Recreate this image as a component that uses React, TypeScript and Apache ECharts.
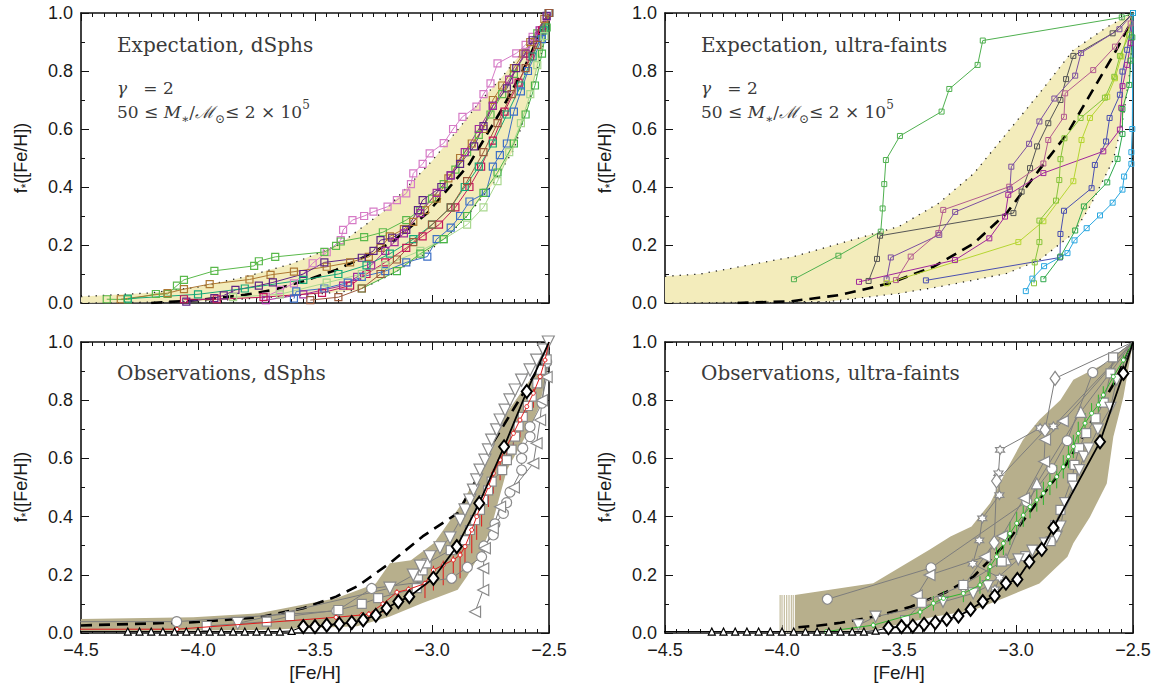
import React, { useEffect, useRef } from "react";
import * as echarts from "echarts";

type P = [number, number];

// ---------- axes ----------
const X_MIN = -4.5;
const X_MAX = -2.5;
const X_STEP = 0.5;
const Y_MIN = 0;
const Y_MAX = 1;
const Y_STEP = 0.2;

const PANEL_TITLES = [
  "Expectation, dSphs",
  "Expectation, ultra-faints",
  "Observations, dSphs",
  "Observations, ultra-faints",
];
const X_NAME = "[Fe/H]";
const Y_NAME = "{f|f}{s|*}([Fe/H])";

// ---------- top-left: expectation, dSphs ----------
const tlBandUpper: P[] = [[-4.5, 0.022], [-4.2, 0.035], [-4.0, 0.055], [-3.8, 0.09], [-3.6, 0.135], [-3.4, 0.2], [-3.2, 0.32], [-3.0, 0.49], [-2.88, 0.607], [-2.8, 0.69], [-2.7, 0.78], [-2.6, 0.88], [-2.5, 1.0]];
const tlBandLower: P[] = [[-4.5, 0.0], [-4.0, 0.005], [-3.74, 0.017], [-3.5, 0.03], [-3.31, 0.045], [-3.17, 0.1], [-3.05, 0.16], [-2.95, 0.217], [-2.85, 0.3], [-2.74, 0.41], [-2.65, 0.53], [-2.595, 0.665], [-2.53, 0.87], [-2.5, 1.0]];
const tlMedian: P[] = [[-4.2, 0.0], [-4.0, 0.01], [-3.8, 0.028], [-3.68, 0.045], [-3.55, 0.075], [-3.41, 0.114], [-3.3, 0.155], [-3.17, 0.21], [-3.02, 0.31], [-2.84, 0.48], [-2.7, 0.67], [-2.6, 0.82], [-2.5, 1.0]];
const tlPink: P[] = [[-3.71, 0.022], [-3.65, 0.045], [-3.59, 0.068], [-3.55, 0.1], [-3.51, 0.137], [-3.45, 0.175], [-3.39, 0.217], [-3.38, 0.252], [-3.34, 0.286], [-3.29, 0.3], [-3.25, 0.315], [-3.19, 0.332], [-3.15, 0.355], [-3.11, 0.378], [-3.09, 0.41], [-3.08, 0.447], [-3.04, 0.48], [-3.01, 0.516], [-2.95, 0.551], [-2.91, 0.6], [-2.87, 0.642], [-2.81, 0.677], [-2.78, 0.72], [-2.75, 0.757], [-2.72, 0.826], [-2.64, 0.861], [-2.6, 0.89], [-2.57, 0.918], [-2.51, 0.987], [-2.5, 1.0]];
const tlGreen: P[] = [[-4.39, 0.013], [-4.3, 0.012], [-4.18, 0.031], [-4.13, 0.031], [-4.09, 0.06], [-4.06, 0.08], [-3.93, 0.111], [-3.76, 0.128], [-3.74, 0.144], [-3.67, 0.159], [-3.46, 0.176], [-3.41, 0.197], [-3.39, 0.212], [-3.29, 0.227], [-3.21, 0.244], [-3.11, 0.286], [-3.05, 0.32], [-3.0, 0.36], [-2.95, 0.41], [-2.9, 0.46], [-2.85, 0.52], [-2.8, 0.58], [-2.75, 0.65], [-2.7, 0.72], [-2.65, 0.79], [-2.6, 0.86], [-2.55, 0.93], [-2.5, 1.0]];
const tlBrown: P[] = [[-4.33, 0.013], [-4.13, 0.034], [-4.06, 0.048], [-3.95, 0.065], [-3.78, 0.081], [-3.69, 0.097], [-3.59, 0.108], [-3.45, 0.125], [-3.35, 0.14], [-3.27, 0.159], [-3.22, 0.19], [-3.18, 0.23], [-3.12, 0.255], [-3.08, 0.28], [-3.03, 0.32], [-2.98, 0.36], [-2.93, 0.43], [-2.88, 0.5], [-2.83, 0.55], [-2.78, 0.6], [-2.74, 0.7], [-2.7, 0.75], [-2.65, 0.81], [-2.61, 0.86], [-2.58, 0.9], [-2.52, 0.98], [-2.5, 1.0]];
const tlPurple: P[] = [[-4.05, 0.005], [-3.93, 0.017], [-3.89, 0.026], [-3.84, 0.045], [-3.74, 0.06], [-3.68, 0.071], [-3.55, 0.1], [-3.46, 0.14], [-3.3, 0.156], [-3.25, 0.18], [-3.22, 0.217], [-3.17, 0.225], [-3.11, 0.252], [-3.06, 0.32], [-3.04, 0.355], [-2.96, 0.4], [-2.92, 0.44], [-2.88, 0.48], [-2.82, 0.54], [-2.78, 0.61], [-2.74, 0.68], [-2.68, 0.74], [-2.64, 0.81], [-2.57, 0.906], [-2.51, 0.99], [-2.5, 1.0]];
const tlMagenta: P[] = [[-3.71, 0.01], [-3.55, 0.03], [-3.38, 0.06], [-3.32, 0.09], [-3.26, 0.13], [-3.2, 0.18], [-3.16, 0.21], [-3.12, 0.24], [-3.05, 0.31], [-2.98, 0.38], [-2.92, 0.44], [-2.86, 0.52], [-2.8, 0.6], [-2.74, 0.68], [-2.67, 0.77], [-2.6, 0.86], [-2.54, 0.94], [-2.5, 1.0]];
const tlCrimson: P[] = [[-4.06, 0.013], [-3.92, 0.013], [-3.72, 0.02], [-3.47, 0.035], [-3.35, 0.06], [-3.28, 0.1], [-3.2, 0.14], [-3.11, 0.19], [-3.04, 0.23], [-2.97, 0.27], [-2.9, 0.33], [-2.84, 0.4], [-2.79, 0.47], [-2.74, 0.56], [-2.69, 0.66], [-2.63, 0.76], [-2.58, 0.85], [-2.53, 0.94], [-2.5, 1.0]];
const tlTeal: P[] = [[-4.3, 0.015], [-4.0, 0.03], [-3.8, 0.05], [-3.55, 0.08], [-3.4, 0.1], [-3.28, 0.13], [-3.18, 0.17], [-3.08, 0.22], [-3.0, 0.27], [-2.92, 0.33], [-2.86, 0.4], [-2.8, 0.47], [-2.74, 0.55], [-2.68, 0.65], [-2.62, 0.75], [-2.57, 0.85], [-2.52, 0.94], [-2.5, 1.0]];
const tlBlue: P[] = [[-3.59, 0.015], [-3.58, 0.04], [-3.46, 0.05], [-3.36, 0.07], [-3.3, 0.09], [-3.2, 0.11], [-3.11, 0.14], [-3.02, 0.16], [-2.98, 0.22], [-2.92, 0.26], [-2.88, 0.3], [-2.84, 0.35], [-2.77, 0.38], [-2.74, 0.47], [-2.71, 0.51], [-2.68, 0.55], [-2.65, 0.66], [-2.62, 0.73], [-2.59, 0.8], [-2.53, 0.91], [-2.5, 1.0]];
const tlLight: P[] = [[-3.85, 0.02], [-3.65, 0.03], [-3.45, 0.07], [-3.3, 0.1], [-3.2, 0.13], [-3.05, 0.18], [-2.95, 0.22], [-2.85, 0.27], [-2.78, 0.33], [-2.72, 0.42], [-2.67, 0.52], [-2.62, 0.62], [-2.58, 0.72], [-2.55, 0.82], [-2.52, 0.92], [-2.5, 1.0]];
const tlGreen2: P[] = [[-3.3, 0.05], [-3.15, 0.11], [-3.05, 0.17], [-2.95, 0.22], [-2.85, 0.3], [-2.78, 0.38], [-2.72, 0.45], [-2.65, 0.55], [-2.6, 0.65], [-2.56, 0.75], [-2.53, 0.86], [-2.51, 0.95], [-2.5, 1.0]];
const tlDarkBrown: P[] = [[-3.52, 0.01], [-3.4, 0.02], [-3.3, 0.05], [-3.22, 0.1], [-3.15, 0.15], [-3.08, 0.21], [-3.0, 0.27], [-2.92, 0.33], [-2.85, 0.42], [-2.78, 0.52], [-2.72, 0.62], [-2.66, 0.72], [-2.6, 0.81], [-2.55, 0.89], [-2.5, 1.0]];
const tlTracks = [tlPink, tlGreen, tlBrown, tlPurple, tlMagenta, tlCrimson, tlTeal, tlBlue, tlLight, tlGreen2, tlDarkBrown];
const tlColors = ["#d67bc6", "#5ab94b", "#ae7934", "#5f2485", "#a12d9c", "#c2185b", "#16a878", "#3c6fc6", "#a9d88f", "#48b54a", "#9a593c"];

// ---------- top-right: expectation, ultra-faints ----------
const trBandUpper: P[] = [[-4.5, 0.092], [-4.35, 0.1], [-4.18, 0.125], [-3.95, 0.16], [-3.75, 0.206], [-3.5, 0.264], [-3.33, 0.344], [-3.18, 0.447], [-3.04, 0.585], [-2.9, 0.723], [-2.755, 0.872], [-2.61, 0.952], [-2.5, 1.0]];
const trBandLower: P[] = [[-4.5, 0.0], [-3.8, 0.005], [-3.5, 0.033], [-3.33, 0.056], [-3.18, 0.079], [-3.04, 0.102], [-2.9, 0.148], [-2.755, 0.24], [-2.684, 0.333], [-2.584, 0.494], [-2.541, 0.643], [-2.51, 0.815], [-2.5, 1.0]];
const trMedian: P[] = [[-4.19, 0.0], [-3.96, 0.006], [-3.75, 0.028], [-3.54, 0.068], [-3.35, 0.126], [-3.18, 0.206], [-3.04, 0.31], [-2.9, 0.46], [-2.78, 0.585], [-2.68, 0.723], [-2.58, 0.86], [-2.51, 0.965], [-2.5, 1.0]];
const trGreen: P[] = [[-3.949, 0.082], [-3.759, 0.163], [-3.578, 0.246], [-3.57, 0.326], [-3.563, 0.41], [-3.556, 0.493], [-3.496, 0.576], [-3.318, 0.66], [-3.285, 0.738], [-3.164, 0.821], [-3.142, 0.905], [-2.548, 0.985], [-2.5, 1.0]];
const trGray: P[] = [[-3.63, 0.076], [-3.594, 0.152], [-3.581, 0.232], [-3.011, 0.31], [-2.976, 0.384], [-2.94, 0.465], [-2.91, 0.54], [-2.862, 0.62], [-2.81, 0.7], [-2.786, 0.772], [-2.755, 0.852], [-2.587, 0.93], [-2.5, 1.0]];
const trPurple: P[] = [[-3.553, 0.082], [-3.535, 0.157], [-3.328, 0.235], [-3.26, 0.314], [-3.026, 0.392], [-3.02, 0.47], [-2.944, 0.549], [-2.9, 0.626], [-2.836, 0.705], [-2.747, 0.784], [-2.722, 0.862], [-2.558, 0.944], [-2.5, 1.0]];
const trMauve: P[] = [[-3.513, 0.079], [-3.45, 0.16], [-3.332, 0.241], [-3.311, 0.321], [-3.029, 0.401], [-2.883, 0.481], [-2.862, 0.562], [-2.795, 0.642], [-2.79, 0.723], [-2.67, 0.803], [-2.577, 0.884], [-2.51, 0.964], [-2.5, 1.0]];
const trMagenta: P[] = [[-3.671, 0.073], [-3.261, 0.148], [-3.114, 0.223], [-3.047, 0.298], [-3.033, 0.373], [-2.883, 0.448], [-2.627, 0.523], [-2.556, 0.598], [-2.55, 0.673], [-2.545, 0.748], [-2.525, 0.821], [-2.51, 0.896], [-2.5, 1.0]];
const trYellow: P[] = [[-3.553, 0.068], [-2.99, 0.21], [-2.883, 0.282], [-2.755, 0.42], [-2.72, 0.562], [-2.684, 0.638], [-2.61, 0.711], [-2.577, 0.775], [-2.55, 0.85], [-2.5, 1.0]];
const trLime: P[] = [[-2.923, 0.068], [-2.92, 0.14], [-2.9, 0.21], [-2.9, 0.284], [-2.829, 0.353], [-2.815, 0.424], [-2.81, 0.496], [-2.793, 0.568], [-2.724, 0.638], [-2.62, 0.708], [-2.58, 0.78], [-2.556, 0.852], [-2.516, 0.925], [-2.5, 1.0]];
const trIndigo: P[] = [[-3.385, 0.078], [-2.812, 0.157], [-2.81, 0.238], [-2.795, 0.318], [-2.677, 0.396], [-2.663, 0.476], [-2.615, 0.557], [-2.6, 0.638], [-2.556, 0.718], [-2.545, 0.798], [-2.525, 0.873], [-2.5, 1.0]];
const trDkGreen: P[] = [[-2.883, 0.082], [-2.81, 0.16], [-2.747, 0.25], [-2.71, 0.333], [-2.61, 0.416], [-2.566, 0.497], [-2.545, 0.583], [-2.545, 0.669], [-2.516, 0.752], [-2.51, 0.836], [-2.503, 0.916], [-2.5, 1.0]];
const trCyan: P[] = [[-2.958, 0.041], [-2.93, 0.084], [-2.88, 0.127], [-2.78, 0.172], [-2.75, 0.216], [-2.698, 0.258], [-2.641, 0.302], [-2.587, 0.346], [-2.545, 0.391], [-2.538, 0.436], [-2.507, 0.48], [-2.507, 0.52], [-2.503, 0.6], [-2.5, 1.0]];
const trTracks = [trGreen, trGray, trPurple, trMauve, trMagenta, trYellow, trLime, trIndigo, trDkGreen, trCyan];
const trColors = ["#4fb04f", "#555555", "#7b4fa0", "#b35b8f", "#a0279b", "#b5d531", "#86c43a", "#4a4fb0", "#2ea84a", "#2aa7e0"];

// ---------- bottom-left: observations, dSphs ----------
const blBandUpper: P[] = [[-4.5, 0.048], [-4.02, 0.054], [-3.74, 0.068], [-3.41, 0.119], [-3.24, 0.17], [-3.18, 0.24], [-3.09, 0.25], [-2.99, 0.31], [-2.88, 0.436], [-2.79, 0.562], [-2.74, 0.665], [-2.68, 0.757], [-2.6, 0.849], [-2.54, 0.917], [-2.5, 0.97]];
const blBandLower: P[] = [[-4.5, 0.005], [-3.74, 0.01], [-3.32, 0.023], [-3.18, 0.057], [-3.04, 0.103], [-2.89, 0.149], [-2.85, 0.195], [-2.81, 0.251], [-2.75, 0.354], [-2.68, 0.56], [-2.6, 0.676], [-2.54, 0.78], [-2.51, 0.895], [-2.5, 0.97]];
const blMedian: P[] = [[-4.5, 0.026], [-4.02, 0.037], [-3.74, 0.054], [-3.55, 0.085], [-3.41, 0.125], [-3.32, 0.16], [-3.18, 0.24], [-3.04, 0.332], [-2.89, 0.412], [-2.81, 0.527], [-2.74, 0.653], [-2.67, 0.745], [-2.6, 0.837], [-2.54, 0.917], [-2.5, 0.97]];
const blDownTri: P[] = [[-3.83, 0.033], [-3.18, 0.154], [-3.08, 0.199], [-3.05, 0.23], [-3.009, 0.262], [-2.966, 0.293], [-2.923, 0.327], [-2.88, 0.388], [-2.859, 0.423], [-2.838, 0.457], [-2.823, 0.491], [-2.809, 0.526], [-2.795, 0.56], [-2.774, 0.594], [-2.759, 0.629], [-2.745, 0.663], [-2.724, 0.698], [-2.709, 0.732], [-2.688, 0.766], [-2.667, 0.801], [-2.645, 0.835], [-2.617, 0.869], [-2.581, 0.904], [-2.553, 0.938], [-2.524, 0.973], [-2.503, 1.0]];
const blCircle: P[] = [[-4.6, 0.039], [-4.091, 0.039], [-3.407, 0.076], [-3.258, 0.153], [-2.916, 0.188], [-2.849, 0.226], [-2.788, 0.262], [-2.778, 0.299], [-2.738, 0.337], [-2.731, 0.375], [-2.695, 0.411], [-2.681, 0.448], [-2.667, 0.484], [-2.617, 0.56], [-2.617, 0.6], [-2.612, 0.635], [-2.581, 0.675], [-2.581, 0.709], [-2.53, 0.79], [-2.51, 0.93], [-2.5, 1.0]];
const blLeftTri: P[] = [[-2.816, 0.073], [-2.781, 0.148], [-2.781, 0.222], [-2.774, 0.291], [-2.74, 0.36], [-2.709, 0.434], [-2.65, 0.5], [-2.567, 0.583], [-2.553, 0.652], [-2.538, 0.732], [-2.53, 0.8], [-2.51, 0.88], [-2.5, 1.0]];
const blSquare: P[] = [[-3.963, 0.024], [-3.706, 0.039], [-3.607, 0.058], [-3.4, 0.079], [-3.3, 0.1], [-3.23, 0.12], [-3.065, 0.154], [-3.06, 0.194], [-3.04, 0.215], [-3.023, 0.239], [-2.92, 0.285], [-2.859, 0.319], [-2.838, 0.354], [-2.816, 0.388], [-2.795, 0.423], [-2.781, 0.457], [-2.76, 0.49], [-2.745, 0.52], [-2.7, 0.56], [-2.68, 0.594], [-2.66, 0.63], [-2.645, 0.675], [-2.63, 0.71], [-2.612, 0.743], [-2.59, 0.78], [-2.574, 0.812], [-2.55, 0.858], [-2.535, 0.904], [-2.51, 0.94], [-2.5, 1.0]];
const blRed: P[] = [[-4.6, 0.013], [-4.09, 0.013], [-3.41, 0.054], [-3.3, 0.062], [-3.27, 0.065], [-3.21, 0.1], [-3.15, 0.14], [-3.1, 0.15], [-3.03, 0.17], [-2.994, 0.216], [-2.952, 0.234], [-2.909, 0.251], [-2.88, 0.268], [-2.859, 0.297], [-2.83, 0.354], [-2.809, 0.4], [-2.788, 0.446], [-2.759, 0.503], [-2.738, 0.549], [-2.709, 0.595], [-2.681, 0.641], [-2.652, 0.686], [-2.624, 0.732], [-2.595, 0.778], [-2.567, 0.824], [-2.538, 0.881], [-2.517, 0.938], [-2.5, 1.0]];
const blRedErrDown = [0, 0, 0.01, 0.02, 0.02, 0.03, 0.04, 0.04, 0.05, 0.07, 0.07, 0.08, 0.08, 0.08, 0.08, 0.08, 0.08, 0.07, 0.07, 0.07, 0.06, 0.06, 0.06, 0.05, 0.05, 0.04, 0.03, 0];
const blRedErrUp = [0, 0, 0.005, 0.01, 0.01, 0.01, 0.01, 0.01, 0.01, 0.015, 0.015, 0.015, 0.015, 0.015, 0.015, 0.015, 0.015, 0.015, 0.015, 0.015, 0.015, 0.015, 0.015, 0.015, 0.015, 0.01, 0.01, 0];
const blDiamond: P[] = [[-3.55, 0.022], [-3.5, 0.022], [-3.45, 0.027], [-3.396, 0.031], [-3.343, 0.036], [-3.294, 0.045], [-3.24, 0.061], [-3.194, 0.085], [-3.144, 0.108], [-3.097, 0.125], [-2.994, 0.188], [-2.894, 0.297], [-2.798, 0.446], [-2.692, 0.64], [-2.595, 0.83], [-2.5, 1.0]];
const blHat: P[] = [[-4.6, 0.005], [-4.3, 0.005], [-4.25, 0.005], [-4.2, 0.005], [-4.15, 0.005], [-4.1, 0.005], [-4.05, 0.005], [-4.0, 0.005], [-3.95, 0.005], [-3.9, 0.005], [-3.85, 0.005], [-3.8, 0.005], [-3.75, 0.005], [-3.7, 0.005], [-3.65, 0.005], [-3.6, 0.007], [-3.55, 0.022]];

// ---------- bottom-right: observations, ultra-faints ----------
const brBandUpper: P[] = [[-3.945, 0.131], [-3.61, 0.171], [-3.37, 0.286], [-3.28, 0.332], [-3.19, 0.366], [-3.11, 0.447], [-3.04, 0.561], [-2.97, 0.664], [-2.9, 0.733], [-2.81, 0.801], [-2.755, 0.87], [-2.61, 0.93], [-2.5, 1.0]];
const brBandLower: P[] = [[-3.945, 0.004], [-3.61, 0.01], [-3.35, 0.056], [-3.18, 0.079], [-3.04, 0.124], [-2.9, 0.17], [-2.78, 0.262], [-2.755, 0.308], [-2.684, 0.399], [-2.612, 0.514], [-2.584, 0.674], [-2.541, 0.811], [-2.5, 1.0]];
const brBandStreakX = [-4.008, -4.0, -3.99, -3.98, -3.97, -3.96, -3.952];
const brBandStreakTop = 0.131;
const brMedian: P[] = [[-3.93, 0.02], [-3.85, 0.025], [-3.75, 0.035], [-3.6, 0.057], [-3.45, 0.09], [-3.3, 0.14], [-3.18, 0.195], [-3.04, 0.31], [-2.9, 0.46], [-2.78, 0.585], [-2.68, 0.723], [-2.58, 0.86], [-2.5, 1.0]];
const brStar: P[] = [[-3.09, 0.15], [-3.07, 0.19], [-3.185, 0.238], [-3.157, 0.318], [-3.144, 0.394], [-3.071, 0.474], [-3.075, 0.549], [-3.068, 0.629], [-2.897, 0.704], [-2.84, 0.71], [-2.5, 1.0]];
const brDiamondGray: P[] = [[-3.225, 0.16], [-3.093, 0.31], [-3.083, 0.522], [-2.876, 0.698], [-2.833, 0.875], [-2.5, 1.0]];
const brCircle: P[] = [[-3.806, 0.116], [-3.363, 0.224], [-2.954, 0.452], [-2.847, 0.565], [-2.781, 0.661], [-2.672, 0.895], [-2.5, 1.0]];
const brLeftTri: P[] = [[-3.424, 0.129], [-3.37, 0.199], [-3.133, 0.262], [-3.06, 0.333], [-2.966, 0.463], [-2.88, 0.589], [-2.876, 0.665], [-2.8, 0.728], [-2.5, 1.0]];
const brUpTri: P[] = [[-3.043, 0.253], [-2.911, 0.514], [-2.723, 0.76], [-2.5, 1.0]];
const brSquare: P[] = [[-3.474, 0.044], [-3.403, 0.104], [-3.225, 0.165], [-3.061, 0.245], [-2.96, 0.264], [-2.852, 0.316], [-2.833, 0.371], [-2.81, 0.423], [-2.76, 0.532], [-2.75, 0.578], [-2.73, 0.635], [-2.7, 0.687], [-2.66, 0.738], [-2.625, 0.792], [-2.596, 0.892], [-2.585, 0.947], [-2.5, 1.0]];
const brDownTri: P[] = [[-3.674, 0.027], [-3.6, 0.056], [-3.312, 0.107], [-3.183, 0.136], [-3.12, 0.161], [-2.99, 0.253], [-2.93, 0.283], [-2.876, 0.308], [-2.826, 0.331], [-2.81, 0.366], [-2.79, 0.446], [-2.755, 0.503], [-2.73, 0.56], [-2.71, 0.606], [-2.69, 0.634], [-2.65, 0.7], [-2.596, 0.774], [-2.57, 0.87], [-2.5, 1.0]];
const brGreen: P[] = [[-3.81, 0.005], [-3.61, 0.027], [-3.41, 0.072], [-3.353, 0.102], [-3.31, 0.119], [-3.225, 0.136], [-3.154, 0.165], [-3.12, 0.19], [-3.111, 0.228], [-3.083, 0.262], [-3.054, 0.308], [-3.026, 0.342], [-2.997, 0.377], [-2.969, 0.405], [-2.94, 0.434], [-2.911, 0.457], [-2.883, 0.48], [-2.855, 0.514], [-2.826, 0.537], [-2.798, 0.571], [-2.776, 0.606], [-2.755, 0.641], [-2.734, 0.686], [-2.705, 0.721], [-2.677, 0.755], [-2.648, 0.784], [-2.627, 0.818], [-2.584, 0.881], [-2.541, 0.938], [-2.5, 1.0]];
const brGreenErr = [0, 0.01, 0.02, 0.025, 0.025, 0.03, 0.03, 0.035, 0.035, 0.035, 0.04, 0.04, 0.04, 0.04, 0.04, 0.04, 0.04, 0.04, 0.04, 0.04, 0.04, 0.04, 0.04, 0.035, 0.035, 0.035, 0.03, 0.03, 0.02, 0];
const brDiamond: P[] = [[-3.545, 0.018], [-3.489, 0.022], [-3.441, 0.024], [-3.393, 0.03], [-3.345, 0.036], [-3.296, 0.047], [-3.246, 0.058], [-3.194, 0.081], [-3.142, 0.108], [-3.091, 0.127], [-3.043, 0.171], [-2.994, 0.184], [-2.943, 0.245], [-2.89, 0.287], [-2.84, 0.362], [-2.641, 0.657], [-2.541, 0.892], [-2.5, 1.0]];
const brHat: P[] = [[-4.6, 0.005], [-4.3, 0.005], [-4.25, 0.005], [-4.2, 0.005], [-4.15, 0.005], [-4.1, 0.005], [-4.05, 0.005], [-4.0, 0.005], [-3.95, 0.005], [-3.9, 0.005], [-3.85, 0.005], [-3.8, 0.005], [-3.75, 0.005], [-3.7, 0.005], [-3.65, 0.005], [-3.6, 0.008], [-3.545, 0.018]];

// ---------- style constants ----------
const GRIDS = [
  { left: 81, top: 13, width: 468, height: 290 },
  { left: 665, top: 13, width: 468, height: 290 },
  { left: 81, top: 342, width: 468, height: 291 },
  { left: 665, top: 342, width: 468, height: 291 },
];
const SANS = "Liberation Sans, Arial, sans-serif";
const SERIF = "DejaVu Serif";
const INK = "#1a1a1a";
const KHAKI = "#b7af8c";
const STAR = "path://M0,-10 L2.9,-5 8.7,-5 5.8,0 8.7,5 2.9,5 0,10 -2.9,5 -8.7,5 -5.8,0 -8.7,-5 -2.9,-5 Z";

function pts(data: P[], hideLast = false) {
  return data.map((p, i) =>
    p[0] < X_MIN || (hideLast && i === data.length - 1) ? { value: p, symbol: "none" } : p
  );
}

function bandSeries(g: number, upper: P[], lower: P[], fill: string) {
  const poly = upper.concat(lower.slice().reverse());
  return {
    type: "custom",
    xAxisIndex: 2 * g,
    yAxisIndex: 2 * g,
    silent: true,
    z: 1,
    data: [[-3.5, 0.5]],
    renderItem: (_params: any, api: any) => ({
      type: "polygon",
      shape: { points: poly.map((p) => api.coord(p)) },
      style: { fill },
    }),
  };
}

function streakSeries(g: number, xs: number[], top: number, color: string) {
  return {
    type: "custom",
    xAxisIndex: 2 * g,
    yAxisIndex: 2 * g,
    silent: true,
    z: 1,
    data: xs.map((x) => [x, 0, top]),
    encode: { x: 0, y: [1, 2] },
    renderItem: (_params: any, api: any) => {
      const a = api.coord([api.value(0), api.value(1)]);
      const b = api.coord([api.value(0), api.value(2)]);
      return { type: "line", shape: { x1: a[0], y1: a[1], x2: b[0], y2: b[1] }, style: { stroke: color, lineWidth: 1.2 } };
    },
  };
}

function edgeSeries(g: number, data: P[]) {
  return {
    type: "line",
    xAxisIndex: 2 * g,
    yAxisIndex: 2 * g,
    data,
    symbol: "none",
    silent: true,
    z: 2,
    lineStyle: { color: "#222", width: 1.3, type: [1.3, 6] },
  };
}

function medianSeries(g: number, data: P[], z = 3) {
  return {
    type: "line",
    xAxisIndex: 2 * g,
    yAxisIndex: 2 * g,
    data,
    symbol: "none",
    silent: true,
    z,
    lineStyle: { color: "#000", width: 2.6, type: [11, 7] },
  };
}

function trackSeries(g: number, data: P[], opts: any) {
  return {
    type: "line",
    xAxisIndex: 2 * g,
    yAxisIndex: 2 * g,
    data: pts(data, !!opts.hideLast),
    symbol: opts.symbol,
    symbolSize: opts.size,
    symbolRotate: opts.rotate || 0,
    showSymbol: true,
    silent: true,
    z: opts.z || 4,
    lineStyle: { color: opts.line, width: opts.lineWidth || 1 },
    itemStyle: { color: opts.fill, borderColor: opts.stroke, borderWidth: opts.borderWidth || 1.2 },
  };
}

function errSeries(g: number, data: P[], down: number[], up: number[], color: string) {
  const rows: number[][] = [];
  data.forEach((p, i) => {
    if (p[0] >= X_MIN && (down[i] > 0 || up[i] > 0)) rows.push([p[0], p[1] - down[i], p[1] + up[i]]);
  });
  return {
    type: "custom",
    xAxisIndex: 2 * g,
    yAxisIndex: 2 * g,
    silent: true,
    z: 4,
    data: rows,
    encode: { x: 0, y: [1, 2] },
    renderItem: (_params: any, api: any) => {
      const a = api.coord([api.value(0), api.value(1)]);
      const b = api.coord([api.value(0), api.value(2)]);
      return { type: "line", shape: { x1: a[0], y1: a[1], x2: b[0], y2: b[1] }, style: { stroke: color, lineWidth: 1 } };
    },
  };
}

function makeAxes() {
  const tickCommon = {
    axisLine: { show: true, onZero: false, lineStyle: { color: "#111", width: 1.6 } },
    axisTick: { show: true, inside: true, length: 8, lineStyle: { color: "#111", width: 1 } },
    splitLine: { show: false },
    minorSplitLine: { show: false },
  };
  const xMinor = { show: true, splitNumber: 10, length: 4, lineStyle: { color: "#111", width: 1 } };
  const yMinor = { show: true, splitNumber: 2, length: 4, lineStyle: { color: "#111", width: 1 } };
  const xAxis: any[] = [];
  const yAxis: any[] = [];
  for (let g = 0; g < 4; g++) {
    const bottomRow = g >= 2;
    xAxis.push({
      type: "value",
      gridIndex: g,
      position: "bottom",
      min: X_MIN,
      max: X_MAX,
      interval: X_STEP,
      ...tickCommon,
      minorTick: xMinor,
      axisLabel: {
        show: bottomRow,
        showMinLabel: true,
        showMaxLabel: true,
        margin: 8,
        fontSize: 18,
        fontFamily: SANS,
        color: INK,
        formatter: (v: number) => (v < 0 ? "\u2212" : "") + Math.abs(v).toFixed(1),
      },
      name: bottomRow ? X_NAME : "",
      nameLocation: "middle",
      nameGap: 30,
      nameTextStyle: { fontSize: 19, fontFamily: SANS, color: INK },
    });
    xAxis.push({
      type: "value",
      gridIndex: g,
      position: "top",
      min: X_MIN,
      max: X_MAX,
      interval: X_STEP,
      ...tickCommon,
      minorTick: xMinor,
      axisLabel: { show: false },
    });
    yAxis.push({
      type: "value",
      gridIndex: g,
      position: "left",
      min: Y_MIN,
      max: Y_MAX,
      interval: Y_STEP,
      ...tickCommon,
      minorTick: yMinor,
      axisLabel: {
        show: true,
        showMinLabel: true,
        showMaxLabel: true,
        margin: 8,
        fontSize: 18,
        fontFamily: SANS,
        color: INK,
        formatter: (v: number) => v.toFixed(1),
      },
    });
    yAxis.push({
      type: "value",
      gridIndex: g,
      position: "right",
      min: Y_MIN,
      max: Y_MAX,
      interval: Y_STEP,
      ...tickCommon,
      minorTick: yMinor,
      axisLabel: { show: false },
    });
  }
  return { xAxis, yAxis };
}

function yNameText(x: number, y: number) {
  return {
    type: "text",
    x,
    y,
    rotation: Math.PI / 2,
    z: 100,
    silent: true,
    style: {
      text: Y_NAME,
      fontSize: 18,
      fontFamily: SANS,
      fill: INK,
      align: "center",
      verticalAlign: "middle",
      lineHeight: 22,
      rich: {
        f: { fontSize: 18, fontFamily: SANS, fill: INK, lineHeight: 22 },
        s: { fontSize: 12, fontFamily: SANS, fill: INK, lineHeight: 12, verticalAlign: "bottom" },
      },
    },
  };
}

function titleText(x: number, y: number, text: string) {
  return {
    type: "text",
    x,
    y,
    z: 100,
    silent: true,
    style: { text, fontSize: 20, fontFamily: SERIF, fill: "#3a3a3a", verticalAlign: "middle", align: "left" },
  };
}

function mathText(x: number, y: number, text: string) {
  return {
    type: "text",
    x,
    y,
    z: 100,
    silent: true,
    style: {
      text,
      fontSize: 17,
      fontFamily: SERIF,
      fill: "#3a3a3a",
      lineHeight: 26,
      verticalAlign: "middle",
      align: "left",
      rich: {
        i: { fontSize: 17, fontFamily: SERIF, fontStyle: "italic", fill: "#3a3a3a", lineHeight: 26 },
        b: { fontSize: 12, fontFamily: SERIF, fill: "#3a3a3a", lineHeight: 12, verticalAlign: "bottom" },
        p: { fontSize: 12, fontFamily: SERIF, fill: "#3a3a3a", lineHeight: 12, verticalAlign: "top" },
      },
    },
  };
}

const GAMMA_TEXT = "{i|\u03b3}   = 2";
const MASS_TEXT = "50 \u2264 {i|M}{b|\u2217}/{i|\u2133}{b|\u2299}\u2264 2 \u00d7 10{p|5}";

function buildOption() {
  const { xAxis, yAxis } = makeAxes();
  const series: any[] = [];

  // top-left
  series.push(bandSeries(0, tlBandUpper, tlBandLower, "#f3ecbb"));
  series.push(edgeSeries(0, tlBandUpper), edgeSeries(0, tlBandLower));
  series.push(medianSeries(0, tlMedian));
  tlTracks.forEach((d, i) =>
    series.push(trackSeries(0, d, { symbol: "rect", size: 7, line: tlColors[i], stroke: tlColors[i], fill: "rgba(0,0,0,0)", borderWidth: 1.2 }))
  );

  // top-right
  series.push(bandSeries(1, trBandUpper, trBandLower, "#f3ecbb"));
  series.push(edgeSeries(1, trBandUpper), edgeSeries(1, trBandLower));
  series.push(medianSeries(1, trMedian));
  trTracks.forEach((d, i) =>
    series.push(trackSeries(1, d, { symbol: "rect", size: 5, line: trColors[i], stroke: trColors[i], fill: "rgba(0,0,0,0)", borderWidth: 1 }))
  );

  // bottom-left
  const gray = { line: "#7d7d7d", stroke: "#8a8a8a", fill: "#ffffff", borderWidth: 1.2 };
  series.push(bandSeries(2, blBandUpper, blBandLower, KHAKI));
  series.push(medianSeries(2, blMedian));
  series.push(trackSeries(2, blCircle, { ...gray, symbol: "circle", size: 10, hideLast: true }));
  series.push(trackSeries(2, blLeftTri, { ...gray, symbol: "triangle", size: 11, rotate: 90, hideLast: true }));
  series.push(trackSeries(2, blSquare, { ...gray, symbol: "rect", size: 9, hideLast: true }));
  series.push(trackSeries(2, blDownTri, { ...gray, symbol: "triangle", size: 12, rotate: 180 }));
  series.push(errSeries(2, blRed, blRedErrDown, blRedErrUp, "#e01b1b"));
  series.push(trackSeries(2, blRed, { symbol: "circle", size: 4, line: "#e01b1b", stroke: "#e01b1b", fill: "#ffffff", borderWidth: 1, z: 5, hideLast: true }));
  series.push(trackSeries(2, blHat, { symbol: "triangle", size: 7, line: "#000", stroke: "#000", fill: "#ffffff", borderWidth: 1.2, z: 6, hideLast: true }));
  series.push(trackSeries(2, blDiamond, { symbol: "diamond", size: [10, 13], line: "#000", stroke: "#000", fill: "#ffffff", borderWidth: 2, lineWidth: 1.8, z: 6, hideLast: true }));

  // bottom-right
  series.push(bandSeries(3, brBandUpper, brBandLower, KHAKI));
  series.push(streakSeries(3, brBandStreakX, brBandStreakTop, "#c4bd9f"));
  series.push(medianSeries(3, brMedian));
  series.push(trackSeries(3, brStar, { ...gray, symbol: STAR, size: 9, hideLast: true }));
  series.push(trackSeries(3, brDiamondGray, { ...gray, symbol: "diamond", size: [10, 14], hideLast: true }));
  series.push(trackSeries(3, brCircle, { ...gray, symbol: "circle", size: 10, hideLast: true }));
  series.push(trackSeries(3, brLeftTri, { ...gray, symbol: "triangle", size: 11, rotate: 90, hideLast: true }));
  series.push(trackSeries(3, brUpTri, { ...gray, symbol: "triangle", size: 11, hideLast: true }));
  series.push(trackSeries(3, brSquare, { ...gray, symbol: "rect", size: 9, hideLast: true }));
  series.push(trackSeries(3, brDownTri, { ...gray, symbol: "triangle", size: 11, rotate: 180, hideLast: true }));
  series.push(errSeries(3, brGreen, brGreenErr, brGreenErr, "#2fb52f"));
  series.push(trackSeries(3, brGreen, { symbol: "circle", size: 4, line: "#2fb52f", stroke: "#2fb52f", fill: "#ffffff", borderWidth: 1, z: 5, hideLast: true }));
  series.push(trackSeries(3, brHat, { symbol: "triangle", size: 7, line: "#000", stroke: "#000", fill: "#ffffff", borderWidth: 1.2, z: 6, hideLast: true }));
  series.push(trackSeries(3, brDiamond, { symbol: "diamond", size: [10, 13], line: "#000", stroke: "#000", fill: "#ffffff", borderWidth: 2, lineWidth: 1.8, z: 6, hideLast: true }));

  const graphic = [
    titleText(117, 45, PANEL_TITLES[0]),
    titleText(701, 45, PANEL_TITLES[1]),
    titleText(117, 373, PANEL_TITLES[2]),
    titleText(701, 373, PANEL_TITLES[3]),
    mathText(117, 88, GAMMA_TEXT),
    mathText(701, 88, GAMMA_TEXT),
    mathText(117, 112, MASS_TEXT),
    mathText(701, 112, MASS_TEXT),
    yNameText(21, 158),
    yNameText(605, 158),
    yNameText(21, 487),
    yNameText(605, 487),
  ];

  return {
    animation: false,
    backgroundColor: "#ffffff",
    grid: GRIDS.map((g) => ({ ...g, containLabel: false })),
    xAxis,
    yAxis,
    series,
    graphic,
  };
}

export default function App() {
  const ref = useRef<HTMLDivElement>(null);
  useEffect(() => {
    if (!ref.current) return;
    const chart = echarts.init(ref.current, undefined, { renderer: "svg" });
    chart.setOption(buildOption() as any);
    return () => chart.dispose();
  }, []);
  return <div ref={ref} style={{ position: "fixed", left: 0, top: 0, width: 1157, height: 685, background: "#fff" }} />;
}
